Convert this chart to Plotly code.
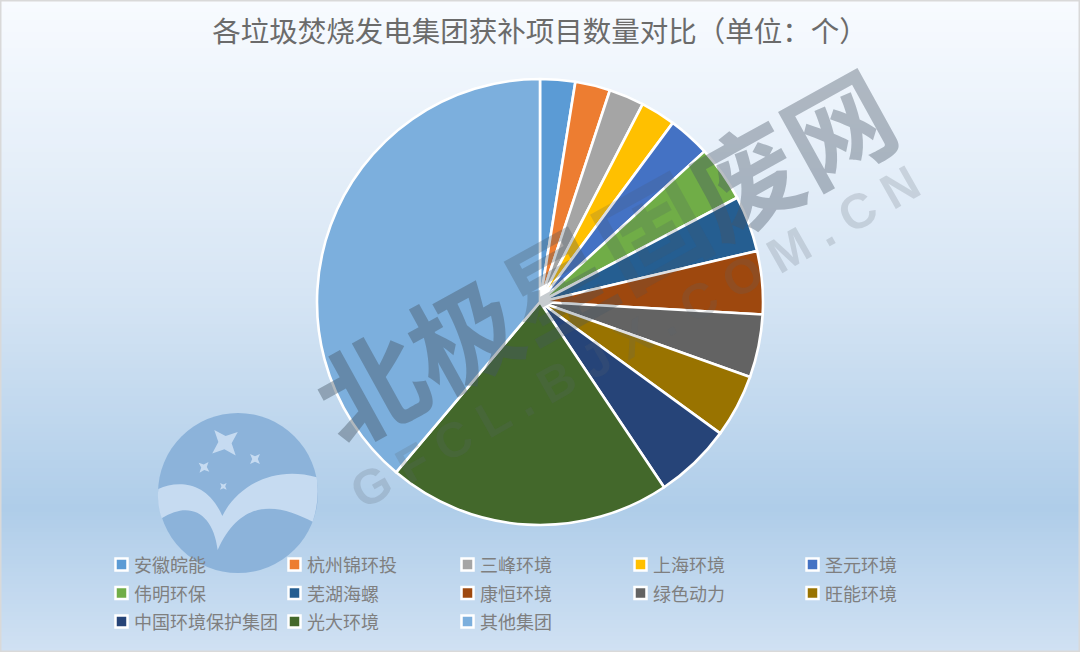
import math
import plotly.graph_objects as go

W, H = 1080, 652

categories = ["安徽皖能", "杭州锦环投", "三峰环境", "上海环境", "圣元环境",
              "伟明环保", "芜湖海螺", "康恒环境", "绿色动力", "旺能环境",
              "中国环境保护集团", "光大环境", "其他集团"]
values = [5, 5, 5, 5, 6, 8, 8, 9, 9, 9, 11, 40.5, 76.5]
colors = ["#5B9BD5", "#ED7D31", "#A5A5A5", "#FFC000", "#4472C4", "#70AD47", "#255E91",
          "#9E480E", "#636363", "#997300", "#264478", "#43682B", "#7CAFDD"]
title_text = "各垃圾焚烧发电集团获补项目数量对比（单位：个）"
FONT = "Noto Sans CJK SC"

bg_stops = [(0.0, (248, 251, 255)), (0.45, (214, 229, 244)), (0.78, (175, 205, 233)), (1.0, (208, 225, 243))]


def bg(t):
    for (a, ca), (b, cb) in zip(bg_stops, bg_stops[1:]):
        if t <= b:
            k = (t - a) / (b - a)
            return "rgb(%d,%d,%d)" % tuple(round(x + (y - x) * k) for x, y in zip(ca, cb))
    return "rgb(%d,%d,%d)" % bg_stops[-1][1]


def P(x, y):
    return f"{x / W:.5f},{1 - y / H:.5f}"


def paper_path(cmds):
    out = []
    for c, pts in cmds:
        out.append(c + " ".join(P(*p) for p in pts))
    return " ".join(out) + " Z"


def star(cx, cy, r, rot):
    pts = []
    for i in range(8):
        rr = r if i % 2 == 0 else r * 0.4
        a = math.radians(rot + i * 45)
        pts.append((cx + rr * math.cos(a), cy + rr * math.sin(a)))
    return [("M", [pts[0]])] + [("L", [p]) for p in pts[1:]]


shapes = []
step = 4
for yy in range(0, H, step):
    shapes.append(dict(type="rect", xref="paper", yref="paper", layer="below",
                       x0=0, x1=1, y0=1 - (yy + step + 1) / H, y1=1 - yy / H,
                       fillcolor=bg((yy + step / 2) / H), line_width=0))

# logo
LOGO = "#8CB3DA"
LIGHT = "#C6DBF1"
shapes.append(dict(type="circle", xref="paper", yref="paper", layer="below",
                   x0=158 / W, x1=318 / W, y0=1 - 573 / H, y1=1 - 413 / H,
                   fillcolor=LOGO, line_width=0))
ox, oy = 140, 390
def z(a, b):
    return (ox + a / 3, oy + b / 3)
band = [("M", [z(55, 297)]),
        ("C", [z(110, 272), z(200, 270), z(247, 378)]),
        ("C", [z(290, 290), z(400, 225), z(530, 262)]),
        ("Q", [z(540, 330), z(518, 395)]),
        ("C", [z(430, 350), z(310, 310), z(233, 480)]),
        ("C", [z(220, 370), z(150, 330), z(65, 385)]),
        ("Q", [z(50, 340), z(55, 297)])]
shapes.append(dict(type="path", xref="paper", yref="paper", layer="below",
                   path=paper_path(band), fillcolor=LIGHT, line_width=0))
for cx, cy, r, rot in [(255, 158, 50, 50), (345, 207, 21, 45), (192, 232, 21, 40), (250, 289, 14, 45)]:
    c = z(cx, cy)
    shapes.append(dict(type="path", xref="paper", yref="paper", layer="below",
                       path=paper_path(star(c[0], c[1], r / 3, rot)), fillcolor=LIGHT, line_width=0))
# frame
shapes.append(dict(type="rect", xref="paper", yref="paper", layer="above",
                   x0=0, x1=1, y0=0, y1=1, fillcolor="rgba(0,0,0,0)",
                   line=dict(color="#D9D9D9", width=3)))

fig = go.Figure(go.Pie(
    labels=categories, values=values, sort=False, direction="clockwise", rotation=0,
    marker=dict(colors=colors, line=dict(color="#FFFFFF", width=2.6)),
    textinfo="none", hole=0, showlegend=False,
    domain=dict(x=[317 / W, 763 / W], y=[1 - 525.5 / H, 1 - 78.5 / H]),
))

wm = ('<span style="color:rgba(70,85,100,0.42)">北极</span>'
      '<span style="color:rgba(70,85,100,0.30)">星</span>'
      '<span style="color:rgba(70,85,100,0.18)">固</span>'
      '<span style="color:rgba(70,85,100,0.38)">废网</span>')
annotations = [
    dict(text=wm, x=602 / W, y=1 - 253 / H, xref="paper", yref="paper",
         showarrow=False, textangle=-29, font=dict(family=FONT, size=107, color="rgb(70,85,100)", weight="bold")),
    dict(text="G F C L . B J X . C O M . C N", x=635 / W, y=1 - 337 / H, xref="paper", yref="paper",
         showarrow=False, textangle=-29.5, font=dict(family="Liberation Sans", size=49, color="rgba(90,100,110,0.2)", weight="bold")),
]

# legend laid out as in the reference: five columns, three rows
col_x = [114, 287, 460, 633, 805]
row_y = [564.5, 593, 621.5]
for i, (name, col) in enumerate(zip(categories, colors)):
    lx = col_x[i % 5]
    ly = row_y[i // 5]
    shapes.append(dict(type="rect", xref="paper", yref="paper", layer="above",
                       x0=(lx + 1.5) / W, x1=(lx + 13.5) / W, y0=1 - (ly + 6) / H, y1=1 - (ly - 6) / H,
                       fillcolor=col, line=dict(color="#FFFFFF", width=2.5)))
    annotations.append(dict(text=name, x=(lx + 18) / W, y=1 - (ly - 0.5) / H, xref="paper", yref="paper",
                            xanchor="left", yanchor="middle", showarrow=False,
                            font=dict(family=FONT, size=18, color="#7F7F7F")))

fig.update_layout(
    width=W, height=H, margin=dict(l=0, r=0, t=0, b=0),
    paper_bgcolor="#D9E6F4", plot_bgcolor="rgba(0,0,0,0)",
    title=dict(text=title_text, x=0.5, xanchor="center", xref="paper", y=1 - 32 / H, yanchor="middle",
               font=dict(family=FONT, size=28.5, color="#6B6B6B")),
    showlegend=False,
    shapes=shapes, annotations=annotations,
)

fig.write_html("out.html", config=dict(displayModeBar=False), post_script="document.body.style.margin='0';")
